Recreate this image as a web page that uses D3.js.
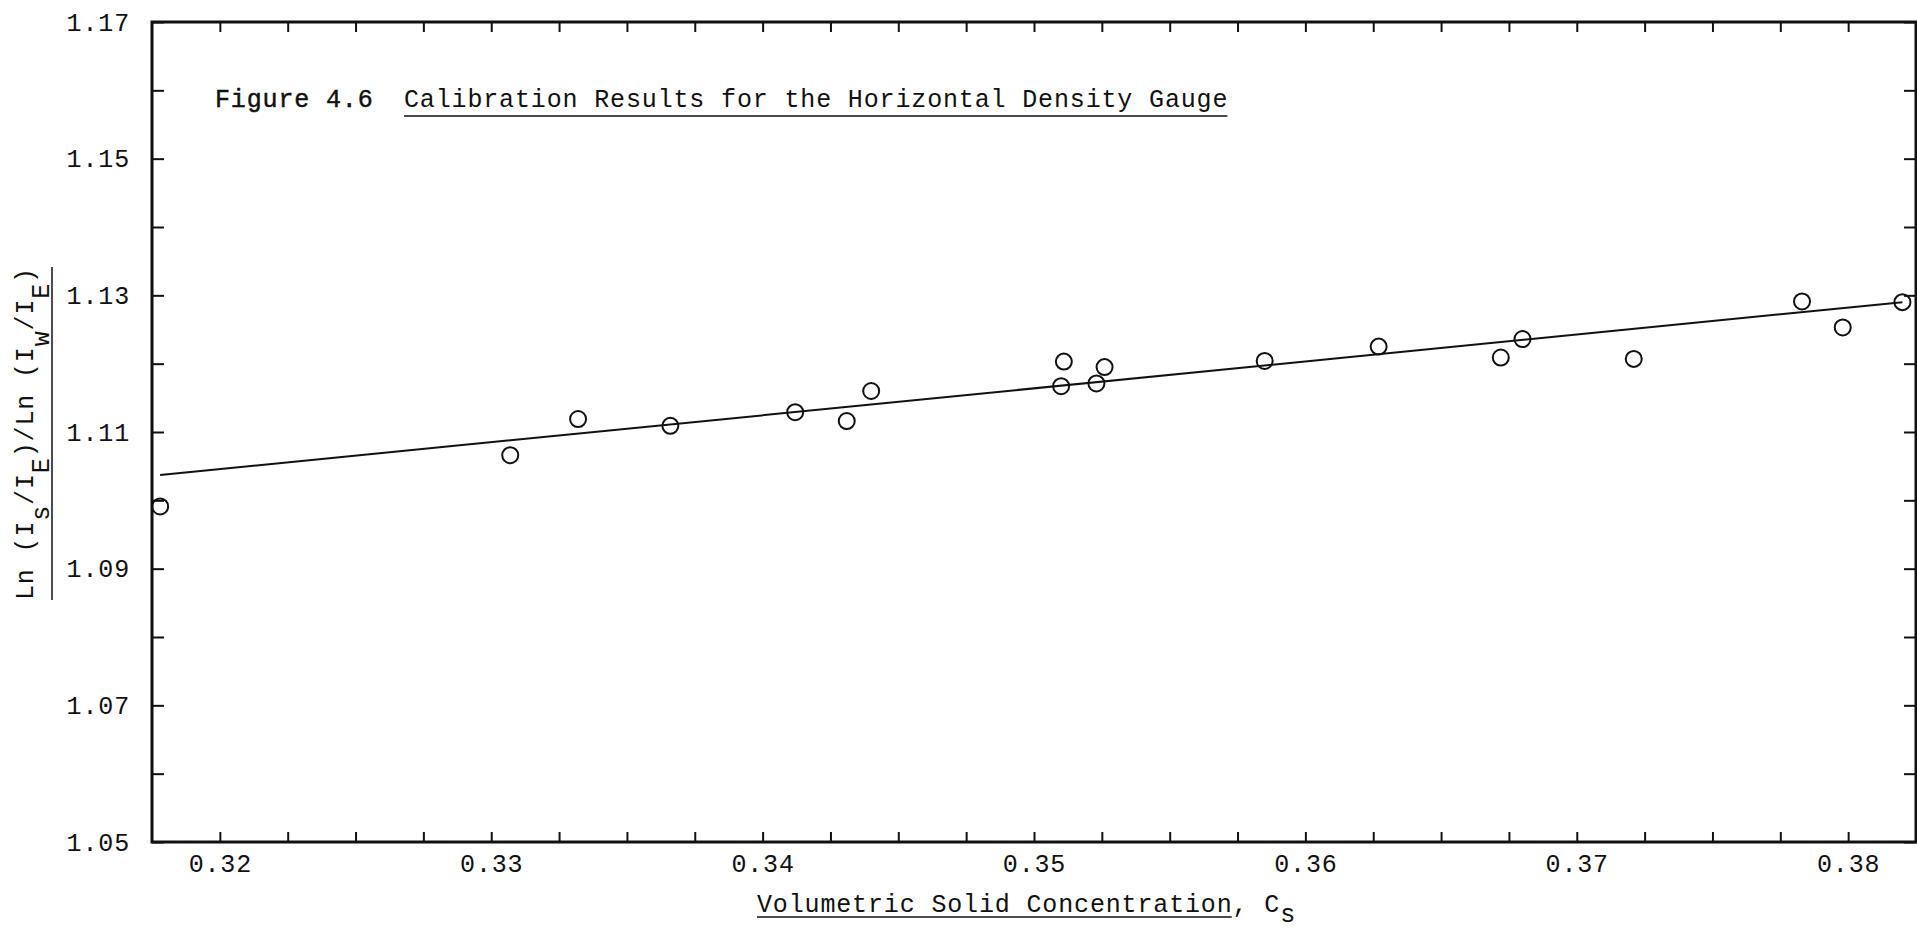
<!DOCTYPE html>
<html lang="en">
<head>
<meta charset="UTF-8">
<title>Figure 4.6 Calibration Results for the Horizontal Density Gauge</title>
<script src="https://d3js.org/d3.v7.min.js"></script>
<style>
  body { margin: 0; background: #fff; }
  svg { display: block; }
  text {
    font-family: "Liberation Mono", "DejaVu Sans Mono", monospace;
    font-size: 25px;
    letter-spacing: 0.85px;
    fill: #111;
  }
  .axis line { stroke: #111; stroke-width: 2; }
  .axis path { display: none; }
  .frame { fill: none; stroke: #111; stroke-width: 3; }
  .fit { fill: none; stroke: #111; stroke-width: 2; }
  .pt { fill: none; stroke: #111; stroke-width: 2; }
  .uline { stroke: #111; stroke-width: 1.5; }
  .fig { stroke: #111; stroke-width: 0.45; }
</style>
</head>
<body>
<div id="chart"></div>
<script>
// measured points: volumetric solid concentration vs Ln(Is/IE)/Ln(Iw/IE)
const concentration = [0.3178, 0.3307, 0.3332, 0.3366, 0.3412, 0.3431, 0.3440, 0.3511, 0.3510,
  0.3523, 0.3526, 0.3585, 0.3627, 0.3672, 0.3680, 0.3721, 0.3783, 0.3798, 0.3820];
const ratio = [1.0991, 1.1066, 1.1119, 1.1109, 1.1129, 1.1116, 1.1160, 1.1203, 1.1167,
  1.1171, 1.1195, 1.1204, 1.1225, 1.1209, 1.1236, 1.1207, 1.1291, 1.1253, 1.1290];

// calibration line end points
const fitConcentration = [0.3178, 0.3820];
const fitRatio = [1.1037, 1.1290];

const xTickLabels = [0.32, 0.33, 0.34, 0.35, 0.36, 0.37, 0.38];
const yTickLabels = [1.05, 1.07, 1.09, 1.11, 1.13, 1.15, 1.17];

const W = 1917, H = 932;
const margin = {top: 22, right: 1, bottom: 90, left: 152};
const width = W - margin.left - margin.right,
  height = H - margin.top - margin.bottom;

const root = d3.select("#chart").append("svg")
  .attr("width", W)
  .attr("height", H);

const svg = root.append("g")
  .attr("transform", "translate(" + margin.left + "," + margin.top + ")");

const x = d3.scaleLinear().domain([0.3175, 0.3825]).range([0, width]);
const y = d3.scaleLinear().domain([1.05, 1.17]).range([height, 0]);

const fmt = d3.format(".2f");
const xMinor = d3.range(25).map(i => 0.32 + i * 0.0025);
const yMinor = d3.range(13).map(i => 1.05 + i * 0.01);
const isIn = (list, v) => list.some(t => Math.abs(t - v) < 1e-6);

svg.append("g")
  .attr("class", "axis")
  .attr("transform", "translate(0," + height + ")")
  .call(d3.axisBottom(x).tickValues(xMinor).tickSizeInner(-10).tickSizeOuter(0).tickPadding(12)
    .tickFormat(v => isIn(xTickLabels, v) ? fmt(v) : ""));

svg.append("g")
  .attr("class", "axis")
  .call(d3.axisTop(x).tickValues(xMinor).tickSizeInner(-10).tickSizeOuter(0).tickFormat(""));

svg.append("g")
  .attr("class", "axis")
  .call(d3.axisLeft(y).tickValues(yMinor).tickSizeInner(-12).tickSizeOuter(0).tickPadding(22)
    .tickFormat(v => isIn(yTickLabels, v) ? fmt(v) : ""));

svg.append("g")
  .attr("class", "axis")
  .attr("transform", "translate(" + width + ",0)")
  .call(d3.axisRight(y).tickValues(yMinor).tickSizeInner(-12).tickSizeOuter(0).tickFormat(""));

svg.append("rect")
  .attr("class", "frame")
  .attr("width", width)
  .attr("height", height);

svg.append("path")
  .attr("class", "fit")
  .attr("d", d3.line()(fitConcentration.map((c, i) => [x(c), y(fitRatio[i])])));

svg.selectAll(".pt")
  .data(concentration)
  .enter().append("circle")
  .attr("class", "pt")
  .attr("cx", d => x(d))
  .attr("cy", (d, i) => y(ratio[i]))
  .attr("r", 8);

// title
root.append("text")
  .attr("class", "fig")
  .attr("x", 215)
  .attr("y", 107)
  .text("Figure 4.6");

const ttl = root.append("text")
  .attr("x", 404)
  .attr("y", 107)
  .text("Calibration Results for the Horizontal Density Gauge");

root.append("line")
  .attr("class", "uline")
  .attr("x1", 404)
  .attr("x2", 404 + ttl.node().getComputedTextLength() - 0.85)
  .attr("y1", 116)
  .attr("y2", 116);

// x axis label
const xl = root.append("text")
  .attr("x", 757)
  .attr("y", 912);
xl.append("tspan").text("Volumetric Solid Concentration");
xl.append("tspan").text(", C");
xl.append("tspan").attr("dy", 10).text("s");

root.append("line")
  .attr("class", "uline")
  .attr("x1", 757)
  .attr("x2", 757 + xl.node().getSubStringLength(0, 30) - 0.85)
  .attr("y1", 917)
  .attr("y2", 917);

// y axis label
const yg = root.append("g")
  .attr("transform", "translate(33,600) rotate(-90)");

const yl = yg.append("text");
yl.append("tspan").text("Ln (I");
yl.append("tspan").attr("dy", 16).text("s");
yl.append("tspan").attr("dy", -16).text("/I");
yl.append("tspan").attr("dy", 16).text("E");
yl.append("tspan").attr("dy", -16).text(")/Ln (I");
yl.append("tspan").attr("dy", 16).text("w");
yl.append("tspan").attr("dy", -16).text("/I");
yl.append("tspan").attr("dy", 16).text("E");
yl.append("tspan").attr("dy", -16).text(")");

yg.append("line")
  .attr("class", "uline")
  .attr("x1", 0)
  .attr("x2", yl.node().getComputedTextLength())
  .attr("y1", 19)
  .attr("y2", 19);
</script>
</body>
</html>
